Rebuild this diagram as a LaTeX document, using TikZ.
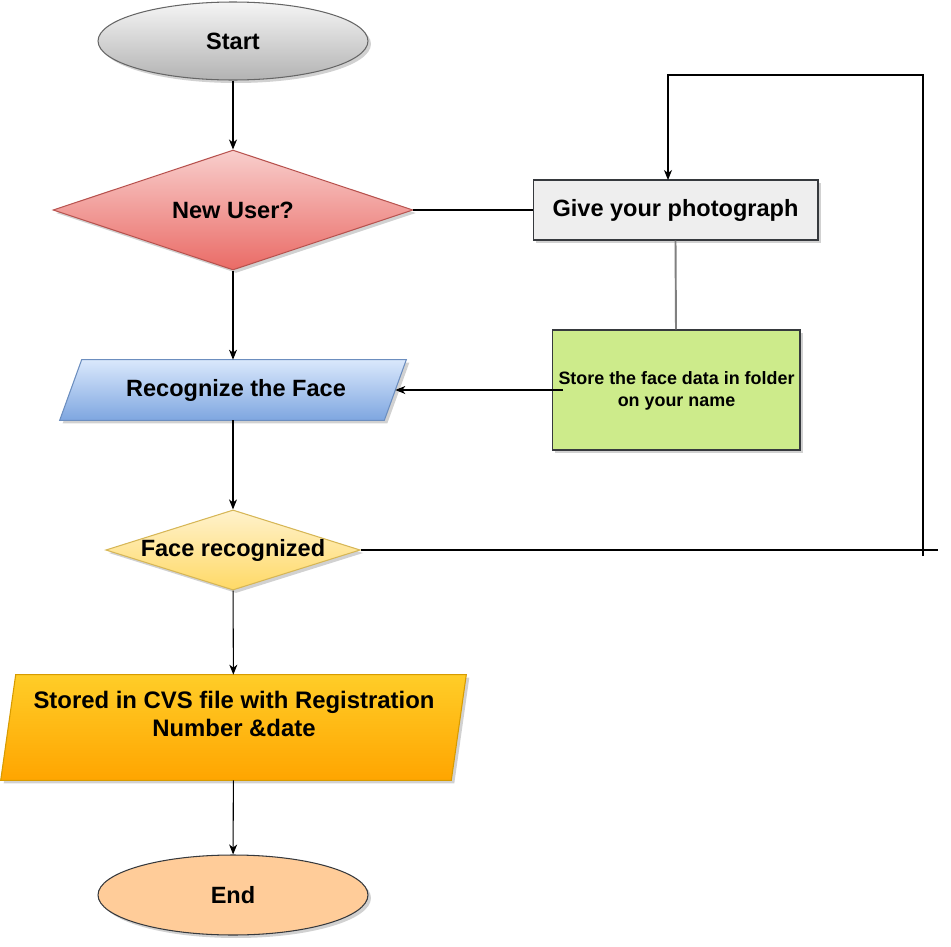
\documentclass[tikz,border=0pt]{standalone}
\usepackage{fontspec}
\setmainfont{Liberation Sans}
\usetikzlibrary{shapes.geometric,arrows.meta,shadows,calc}
\definecolor{startTop}{HTML}{F5F5F5}
\definecolor{startBot}{HTML}{B3B3B3}
\definecolor{darkline}{HTML}{36393D}
\definecolor{redTop}{HTML}{F8CECC}
\definecolor{redBot}{HTML}{EA6B66}
\definecolor{redLine}{HTML}{B85450}
\definecolor{greyFill}{HTML}{EEEEEE}
\definecolor{greenFill}{HTML}{CDEB8B}
\definecolor{blueTop}{HTML}{DAE8FC}
\definecolor{blueBot}{HTML}{7EA6E0}
\definecolor{blueLine}{HTML}{6C8EBF}
\definecolor{yelTop}{HTML}{FFF2CC}
\definecolor{yelBot}{HTML}{FFD966}
\definecolor{yelLine}{HTML}{D6B656}
\definecolor{orTop}{HTML}{FFCD28}
\definecolor{orBot}{HTML}{FFA500}
\definecolor{orLine}{HTML}{D79B00}
\definecolor{endFill}{HTML}{FFCC99}
\definecolor{linkGrey}{HTML}{808080}
\begin{document}
\begin{tikzpicture}[x=0.02cm,y=-0.02cm,
  bigtext/.style={font=\fontsize{13.4}{16}\selectfont\bfseries},
  smalltext/.style={font=\fontsize{10.2}{12.5}\selectfont\bfseries},
  shad/.style={drop shadow={shadow xshift=0.06cm,shadow yshift=-0.06cm,fill=black,opacity=0.18}},
  box/.style={inner sep=0pt, line width=0.6pt, shad},
  holder/.style={inner sep=0pt, draw=none},
  conn/.style={line width=0.6pt, draw=black},
  arr/.style={conn, -{Stealth[length=2mm,width=1.6mm,inset=0.6mm]}}
]
\useasboundingbox (0,0) rectangle (951,947);

% Start
\node[box, bigtext, ellipse, minimum width=5.4cm, minimum height=1.56cm,
      top color=startTop, bottom color=startBot, draw=black!60] (start) at (233,41) {Start};
% New User?
\node[box, bigtext, diamond, minimum width=7.2cm, minimum height=2.4cm, aspect=3,
      top color=redTop, bottom color=redBot, draw=redLine] (newuser) at (233,210) {New User?};
% Give your photograph
\node[box, bigtext, rectangle, minimum width=5.7cm, minimum height=1.2cm,
      fill=greyFill, draw=darkline] (give) at (675.5,210) {Give your photograph};
% Store the face data
\node[box, smalltext, rectangle, minimum width=4.96cm, minimum height=2.4cm,
      fill=greenFill, draw=darkline, align=center] (store) at (676,390) {};
\node[smalltext, align=center, inner sep=0pt] (storetxt) at (676.5,391) {Store the face data in folder\\on your name};
% Recognize the Face (parallelogram)
\node[holder, minimum width=6.48cm, minimum height=1.2cm] (recog) at (233,390) {};
\shade[box, top color=blueTop, bottom color=blueBot, draw=blueLine]
  ($(recog.north west)+(11,0)$) -- ($(recog.north east)+(11,0)$) --
  ($(recog.south east)+(-11,0)$) -- ($(recog.south west)+(-11,0)$) -- cycle;
\node[bigtext, inner sep=0pt] (recogtxt) at (236,390) {Recognize the Face};
% Face recognized
\node[box, bigtext, diamond, minimum width=5.08cm, minimum height=1.6cm, aspect=3.175,
      top color=yelTop, bottom color=yelBot, draw=yelLine] (face) at (233,550) {Face recognized};
% Stored in CVS
\node[holder, minimum width=9.0cm, minimum height=2.1cm] (stored) at (233.5,727.5) {};
\shade[box, top color=orTop, bottom color=orBot, draw=orLine]
  ($(stored.north west)+(7.5,0)$) -- ($(stored.north east)+(7.5,0)$) --
  ($(stored.south east)+(-7.5,0)$) -- ($(stored.south west)+(-7.5,0)$) -- cycle;
\node[font=\fontsize{13.6}{16.2}\selectfont\bfseries, align=center, inner sep=0pt] (storedtxt) at (234,714) {Stored in CVS file with Registration\\Number \&date};
% End
\node[box, bigtext, ellipse, minimum width=5.4cm, minimum height=1.6cm,
      fill=endFill, draw=darkline] (end) at (233,895) {End};

% Connectors
\draw[arr] (start) -- (newuser);
\draw[arr] (newuser) -- (recog);
\draw[arr] (recog) -- (face);
\draw[arr] (face) -- (stored);
\draw[arr] (stored) -- (end);
\draw[conn] (newuser.east) -- (give.west);
\draw[line width=1.1pt, draw=linkGrey] (give.south) -- (store.north);
\coordinate (storeout) at (563,390);
\draw[arr] (storeout) -- (recog.east);
\coordinate (faceend) at (938,550);
\coordinate (loopbot) at (923,556);
\coordinate (loopcorner) at (923,75);
\coordinate (looptop) at (668,75);
\coordinate (givein) at (668,180);
\draw[conn] (face.east) -- (faceend);
\draw[arr] (loopbot) -- (loopcorner) -- (looptop) -- (givein);
\end{tikzpicture}
\end{document}
